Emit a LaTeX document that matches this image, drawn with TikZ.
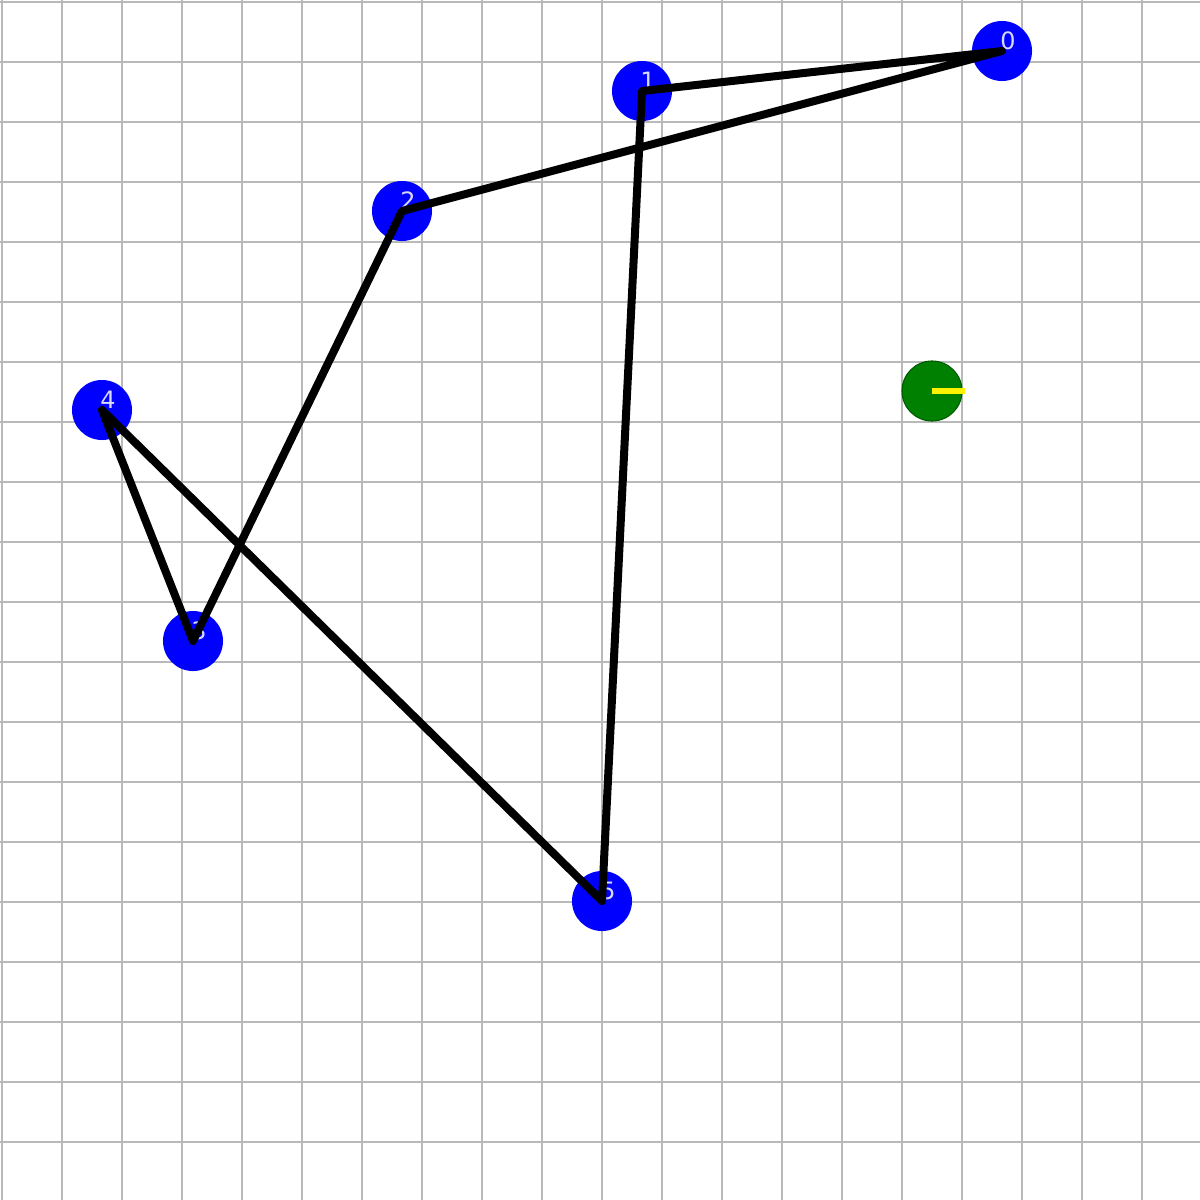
\documentclass[tikz,border=0pt]{standalone}
\usepackage{fontspec}
\setmainfont{DejaVu Sans}
\definecolor{nodeblue}{RGB}{0,0,255}
\definecolor{robotgreen}{RGB}{0,128,0}
\definecolor{gridgray}{RGB}{185,185,185}
\begin{document}
\begin{tikzpicture}[x = 0.01cm, y = -0.01cm,
	main/.style = {circle, fill = nodeblue, minimum size = 0.6cm, inner sep = 0},
	tag/.style = {text = white!85!blue, font = \fontsize{6.8}{8}\selectfont, inner sep = 0, xshift = 0.06cm, yshift = 0.1cm},
	tour/.style = {line width = 0.08cm, line join = round},
	gridline/.style = {gridgray, line width = 0.02cm}]
	\useasboundingbox (0,0) rectangle (1200,1200);
	\fill[white] (0,0) rectangle (1200,1200);
	\foreach \k in {0,...,19} {
		\draw[gridline] (2+60*\k,0) -- (2+60*\k,1200);
		\draw[gridline] (0,2+60*\k) -- (1200,2+60*\k);
	}
	\node[main, label = {[tag]center:0}] (0) at (1002,51) {};
	\node[main, label = {[tag]center:1}] (1) at (642,91) {};
	\node[main, label = {[tag]center:2}] (2) at (402,211) {};
	\node[main, label = {[tag]center:3}] (3) at (193,641) {};
	\node[main, label = {[tag]center:4}] (4) at (102,410) {};
	\node[main, label = {[tag]center:5}] (5) at (602,901) {};
	\draw[tour] (0.center) -- (2.center) -- (3.center) -- (4.center) -- (5.center) -- (1.center) -- cycle;
	\node[circle, fill = robotgreen, draw = robotgreen!70!black, line width = 0.3pt, minimum size = 0.6cm, inner sep = 0] (g) at (932,391) {};
	\coordinate (h) at (965,391);
	\draw[yellow, line width = 0.06cm] (g.center) -- (h);
\end{tikzpicture}
\end{document}
